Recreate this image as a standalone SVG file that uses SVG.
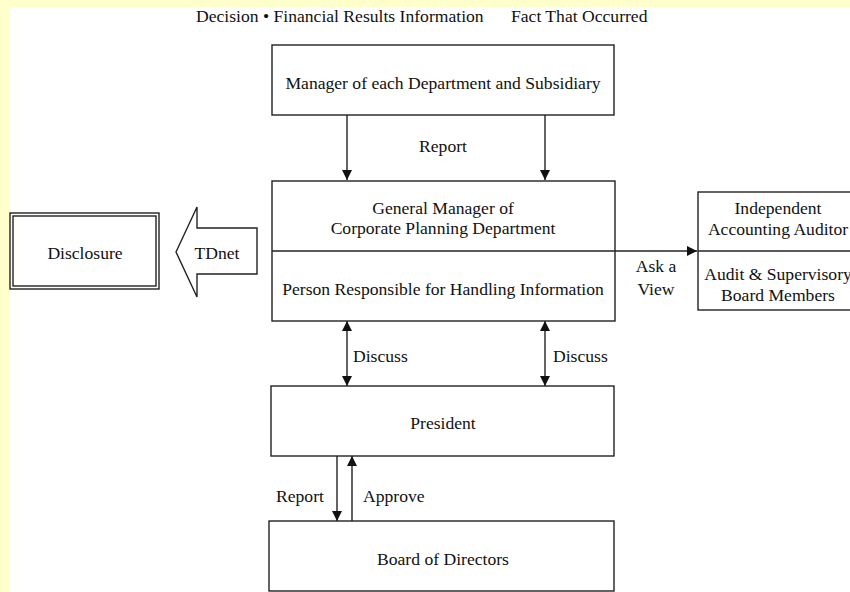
<svg xmlns="http://www.w3.org/2000/svg" width="850" height="592" viewBox="0 0 850 592">
<style>
text{font-family:"Liberation Serif","Times New Roman",serif;font-size:17.6px;fill:#111}
.c{text-anchor:middle}
.box{fill:#fff;stroke:#222;stroke-width:1.4}
.ln{stroke:#222;stroke-width:1.4;fill:none}
</style>
<defs>
<marker id="ah" viewBox="0 0 10 10" refX="10" refY="5" markerWidth="10" markerHeight="10" markerUnits="userSpaceOnUse" orient="auto-start-reverse">
<path d="M0,0 L10,5 L0,10 z" fill="#111"/>
</marker>
</defs>
<rect x="0" y="0" width="850" height="592" fill="#FFFFCC"/>
<rect x="9" y="7" width="841" height="585" fill="#fff"/>
<g id="header">
<text x="196" y="22">Decision • Financial Results Information</text>
<text x="511" y="22">Fact That Occurred</text>
</g>
<g id="connectors">
<line class="ln" x1="347" y1="115" x2="347" y2="180" marker-end="url(#ah)"/>
<line class="ln" x1="545" y1="115" x2="545" y2="180" marker-end="url(#ah)"/>
<line class="ln" x1="615" y1="251" x2="697" y2="251" marker-end="url(#ah)"/>
<line class="ln" x1="347" y1="321" x2="347" y2="386" marker-start="url(#ah)" marker-end="url(#ah)"/>
<line class="ln" x1="545" y1="321" x2="545" y2="386" marker-start="url(#ah)" marker-end="url(#ah)"/>
<line class="ln" x1="337" y1="456" x2="337" y2="521" marker-end="url(#ah)"/>
<line class="ln" x1="352" y1="521" x2="352" y2="456" marker-end="url(#ah)"/>
<text x="443" y="152" class="c">Report</text>
<text x="353" y="362">Discuss</text>
<text x="553" y="362">Discuss</text>
<text x="276" y="502">Report</text>
<text x="363" y="502">Approve</text>
<text x="656" y="272" class="c">Ask a</text>
<text x="656" y="295" class="c">View</text>
</g>
<g id="manager">
<rect class="box" x="272" y="45" width="342" height="70"/>
<text x="443" y="89" class="c">Manager of each Department and Subsidiary</text>
</g>
<g id="general-manager">
<rect class="box" x="272" y="181" width="343" height="140"/>
<line class="ln" x1="272" y1="251" x2="615" y2="251"/>
<text x="443" y="214" class="c">General Manager of</text>
<text x="443" y="234" class="c">Corporate Planning Department</text>
<text x="443" y="295" class="c">Person Responsible for Handling Information</text>
</g>
<g id="auditor">
<rect class="box" x="698" y="192" width="160" height="118"/>
<line class="ln" x1="698" y1="251" x2="850" y2="251"/>
<text x="778" y="214" class="c">Independent</text>
<text x="778" y="235" class="c">Accounting Auditor</text>
<text x="778" y="280" class="c">Audit &amp; Supervisory</text>
<text x="778" y="301" class="c">Board Members</text>
</g>
<g id="president">
<rect class="box" x="271" y="386" width="343" height="70"/>
<text x="443" y="429" class="c">President</text>
</g>
<g id="board">
<rect class="box" x="269" y="521" width="345" height="70"/>
<text x="443" y="565" class="c">Board of Directors</text>
</g>
<g id="disclosure">
<rect class="box" x="10" y="213" width="149" height="76"/>
<rect class="box" x="13" y="216" width="143" height="70"/>
<text x="85" y="259" class="c">Disclosure</text>
</g>
<g id="tdnet">
<polygon class="box" points="176,252 197,207 197,228 257,228 257,274 197,274 197,297"/>
<text x="217" y="259" class="c">TDnet</text>
</g>
</svg>
